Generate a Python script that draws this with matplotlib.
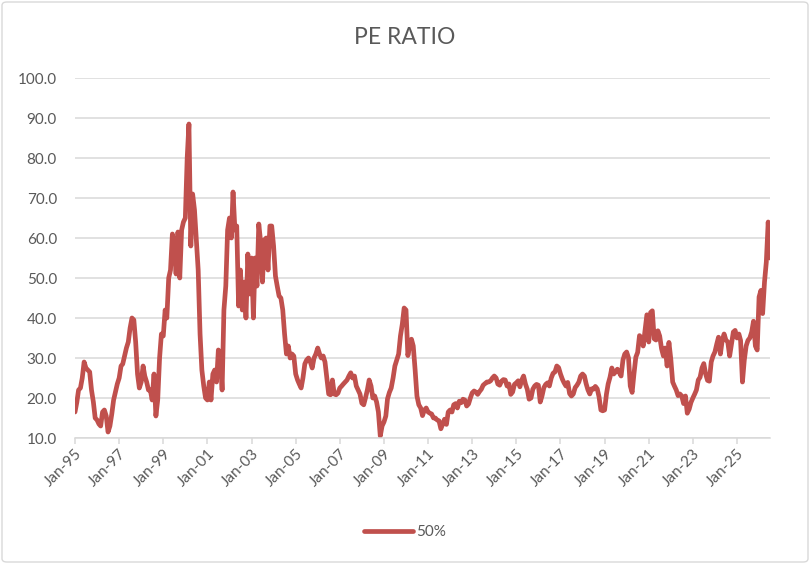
import numpy as np
import pandas as pd
import matplotlib
matplotlib.use('Agg')
import matplotlib.pyplot as plt
import matplotlib.dates as mdates
import matplotlib.ticker as ticker
from matplotlib.patches import FancyBboxPatch

plt.rcParams['font.family'] = ['Lato', 'DejaVu Sans']

#%% Datos: PE ratio mensual, enero 1995 -> julio 2026
pe_1995 = [16.5, 19, 22, 22.5, 25, 29, 27.5, 27, 26.5, 22, 19, 15]
pe_1996 = [14.5, 13.5, 13, 16.5, 17, 15.5, 11.5, 13, 16, 19.5, 21.5, 23.5]
pe_1997 = [25, 28, 28.5, 30.5, 32.5, 34, 37.5, 40, 39.5, 34, 26, 22.5]
pe_1998 = [24, 28, 25.5, 24, 22, 22, 19.5, 26, 15.5, 19.5, 30, 36]
pe_1999 = [35.5, 42, 40, 50, 52, 61, 58, 51, 61.5, 50, 62, 64]
pe_2000 = [65, 80, 88.5, 58, 71, 67, 59.5, 52, 36, 27, 23, 20]
pe_2001 = [19.5, 24, 19.5, 26, 27, 24, 32, 31, 22, 42, 48, 62]
pe_2002 = [65, 60, 71.5, 62, 63, 43, 52, 42, 49, 40, 56, 46]
pe_2003 = [55, 40, 55, 48, 63.5, 59, 49, 59.5, 60, 52, 63, 63]
pe_2004 = [58, 50.5, 48, 45.5, 45, 42, 36, 31, 33, 30, 31, 30.5]
pe_2005 = [26, 24.5, 23.5, 22.5, 25, 28.5, 29.5, 30, 29, 27.5, 30, 31]
pe_2006 = [32.5, 31, 30, 30.5, 29, 25, 21, 20.8, 24.5, 21, 20.8, 21.2]
pe_2007 = [22.5, 23, 23.5, 24, 24.5, 25.5, 26.3, 25, 25.5, 23, 22, 21]
pe_2008 = [18.7, 18.3, 20, 22, 24.5, 23, 20, 20.5, 19, 16.5, 10.5, 13]
pe_2009 = [14, 15.5, 19.8, 21.4, 22.5, 25, 28, 29.5, 31, 35.5, 38.5, 42.5]
pe_2010 = [42, 30.6, 33, 34.7, 33, 27, 20.5, 18.3, 17.5, 15.6, 17, 17.5]
pe_2011 = [16.5, 16.2, 16, 15, 15, 14.5, 14.3, 12.3, 13.5, 14.7, 13.4, 16.5]
pe_2012 = [17, 16.5, 18.3, 18.6, 17.5, 19.2, 18.8, 19.7, 19.5, 18, 18.5, 20]
pe_2013 = [21.3, 21.75, 21.5, 20.9, 21.6, 22.2, 23.2, 23.6, 24, 24, 24.3, 25]
pe_2014 = [25.5, 25, 23.5, 23.2, 24.2, 24.6, 24.5, 23, 23.5, 20.9, 21.5, 23.4]
pe_2015 = [23.8, 24.3, 22.8, 24.5, 25.5, 23.5, 22.2, 19.7, 20, 22.2, 23, 23.4]
pe_2016 = [23.2, 19, 20.5, 22.6, 23.4, 23.8, 23, 25, 26.2, 26.5, 28, 27.6]
pe_2017 = [26, 24.7, 23.8, 23, 23.9, 21.1, 20.5, 21, 22.6, 23.2, 24, 25.5]
pe_2018 = [26, 25.5, 23.6, 22, 21, 22.3, 22.2, 22.9, 22.3, 20.3, 17, 16.8]
pe_2019 = [17, 21, 23.5, 25.2, 27.5, 26, 26.5, 27.2, 26.4, 25.5, 29.5, 31]
pe_2020 = [31.5, 30, 23, 21.4, 26, 30.2, 31.4, 35.6, 35, 33, 37, 40.8]
pe_2021 = [34, 41.4, 41.8, 34.8, 34.5, 36.8, 35.5, 32.3, 30.5, 32.5, 28, 33.9]
pe_2022 = [29.75, 24, 23, 22, 20.6, 21, 20.5, 18.6, 20.5, 16.2, 17.2, 18.9]
pe_2023 = [20, 21, 22, 24.5, 25.2, 27.5, 28.6, 26, 24.4, 24.2, 29, 30.5]
pe_2024 = [31.5, 33.5, 35.2, 31, 34.4, 36, 34.5, 34, 30.5, 33.5, 36.5, 36.9]
pe_2025 = [35, 36, 34.4, 24, 29.4, 33, 34.4, 35, 36.5, 39.2, 33, 32]
pe_2026 = [45.25, 46.9, 41.1, 49, 54, 64, 55]

pe = (pe_1995 + pe_1996 + pe_1997 + pe_1998 + pe_1999 + pe_2000 + pe_2001
      + pe_2002 + pe_2003 + pe_2004 + pe_2005 + pe_2006 + pe_2007 + pe_2008
      + pe_2009 + pe_2010 + pe_2011 + pe_2012 + pe_2013 + pe_2014 + pe_2015
      + pe_2016 + pe_2017 + pe_2018 + pe_2019 + pe_2020 + pe_2021 + pe_2022
      + pe_2023 + pe_2024 + pe_2025 + pe_2026)
fechas = pd.date_range('1995-01-01', periods=len(pe), freq='MS')

ticks_x = pd.date_range('1995-01-01', '2025-01-01', freq='24MS')
ticks_y = np.arange(10, 101, 10)

gris_texto = '#595959'
gris_grilla = '#D9D9D9'
rojo = '#C0504D'

#%% Figura
fig = plt.figure(figsize=(8.1, 5.64), dpi=100)
ax = fig.add_axes([75/810, 1 - 438/564, (770 - 75)/810, (438 - 78)/564])

ax.plot(fechas, pe, color=rojo, linewidth=3.4, solid_capstyle='round',
        solid_joinstyle='round', label='50%')

ax.set_ylim(10, 100)
ax.set_xlim(fechas[0], fechas[-1])
ax.set_yticks(ticks_y)
ax.yaxis.set_major_formatter(ticker.FormatStrFormatter('%.1f'))
ax.set_xticks(ticks_x)
ax.xaxis.set_major_formatter(mdates.DateFormatter('%b-%y'))

ax.grid(axis='y', color=gris_grilla, linewidth=1.1)
ax.set_axisbelow(True)
for s in ['top', 'right', 'left']:
    ax.spines[s].set_visible(False)
ax.spines['bottom'].set_color(gris_grilla)
ax.spines['bottom'].set_linewidth(1.1)

ax.tick_params(axis='y', length=0, pad=13, labelsize=11, labelcolor=gris_texto)
ax.tick_params(axis='x', length=4, width=1.1, color=gris_grilla, pad=2,
               labelsize=11, labelcolor=gris_texto)
for lbl in ax.get_xticklabels():
    lbl.set_rotation(45)
    lbl.set_ha('right')
    lbl.set_rotation_mode('anchor')

fig.text(0.5, 1 - 37/564, 'PE RATIO', ha='center', va='center',
         fontsize=16.5, color=gris_texto)

fig.legend(loc='center', bbox_to_anchor=(0.5, 1 - 532/564), frameon=False,
           fontsize=11, handlelength=3.2, handletextpad=0.2, labelcolor=gris_texto)

# Borde del área del gráfico (estilo Excel)
borde = FancyBboxPatch((2/810, 2/564), 806/810, 560/564,
                       boxstyle='round,pad=0,rounding_size=0.006',
                       transform=fig.transFigure, fill=False,
                       edgecolor=gris_grilla, linewidth=1)
fig.patches.append(borde)

fig.savefig('out.png', dpi=100)
